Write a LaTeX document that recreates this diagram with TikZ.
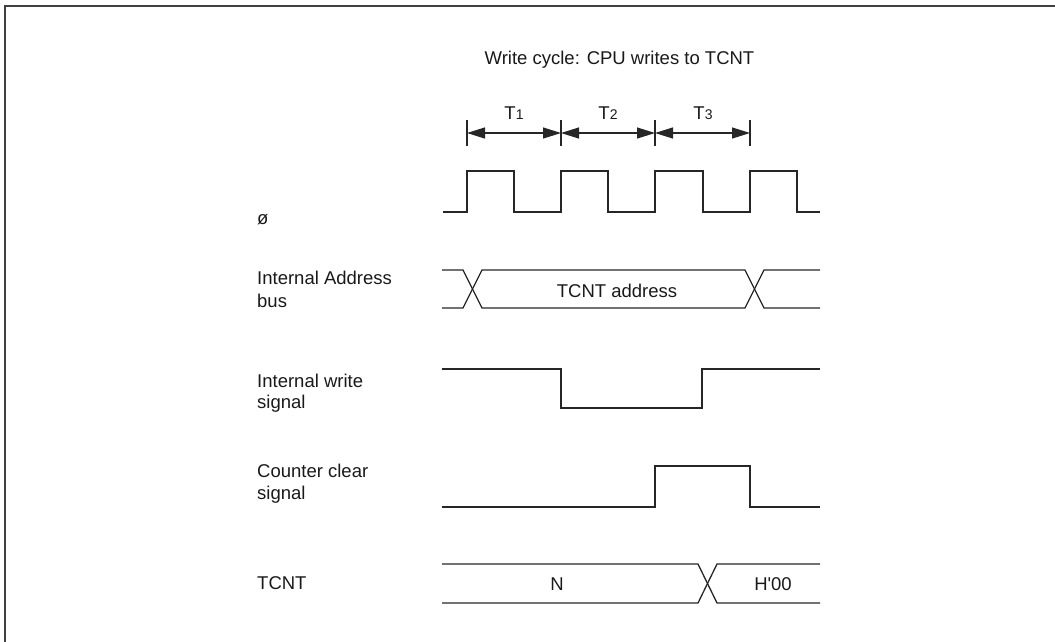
\documentclass[tikz,border=0pt]{standalone}
\usepackage{fontspec}
\setmainfont{Liberation Sans}[Ligatures=TeXOff]
\usetikzlibrary{arrows.meta}
\tikzset{
  sig/.style={line width=1.3pt, black!85, line join=miter},
  txt/.style={inner sep=0pt, font=\fontsize{18.5}{22}\selectfont, text=black!90},
  lbl/.style={txt, anchor=base west},
  mid/.style={txt, anchor=base},
  tick/.style={line width=1.1pt, black!85},
  dim/.style={line width=1.2pt, black!85, {Triangle[length=18pt,width=11pt]}-{Triangle[length=18pt,width=11pt]}},
  frame/.style={line width=2pt, black!75}
}
\newcommand{\Tlab}[1]{{\fontsize{18.5}{18.5}\selectfont T}{\fontsize{14}{14}\selectfont #1}}
\newcommand{\twolines}[3]{\parbox[t]{6cm}{\fontsize{18.5}{#3}\selectfont #1\\#2}}
\begin{document}
\begin{tikzpicture}[x=1pt,y=-1pt]
\useasboundingbox (0,0) rectangle (1055,641);
\draw[frame] (5,645) -- (5,6) -- (1060,6);

% title
\node[mid] (title) at (619.5,64) {Write cycle: CPU writes to TCNT};

% period markers
\foreach \x/\n in {467/a,561/b,655/c,750/d}{
  \coordinate (\n) at (\x,133);
  \draw[tick] (\x,120) -- (\x,146);
}
\draw[dim] (a) -- (b);
\draw[dim] (b) -- (c);
\draw[dim] (c) -- (d);
\node[txt, anchor=base] (t1) at (514,119) {\Tlab{1}};
\node[txt, anchor=base] (t2) at (608,119) {\Tlab{2}};
\node[txt, anchor=base] (t3) at (703,119) {\Tlab{3}};

% left labels
\node[lbl] (l1) at (257,224) {ø};
\node[lbl] (l2) at (257,284) {\twolines{Internal Address}{bus}{23pt}};
\node[lbl] (l3) at (257,387) {\twolines{Internal write}{signal}{21pt}};
\node[lbl] (l4) at (257,477) {\twolines{Counter clear}{signal}{22pt}};
\node[lbl] (l5) at (257,589) {TCNT};

% clock
\draw[sig] (443,212) -- (467,212) -- (467,171) -- (514,171) -- (514,212) -- (561,212)
  -- (561,171) -- (608,171) -- (608,212) -- (655,212) -- (655,171) -- (703,171)
  -- (703,212) -- (750,212) -- (750,171) -- (797,171) -- (797,212) -- (820,212);

% address bus
\draw[sig] (442,270) -- (463,270) -- (482,308) -- (745,308) -- (764,270) -- (820,270);
\draw[sig] (442,308) -- (463,308) -- (482,270) -- (745,270) -- (764,308) -- (820,308);
\node[mid] (addr) at (617,297) {TCNT address};

% write signal
\draw[sig] (442,369) -- (561,369) -- (561,408) -- (702,408) -- (702,369) -- (820,369);

% counter clear
\draw[sig] (442,507) -- (655,507) -- (655,466) -- (750,466) -- (750,507) -- (820,507);

% TCNT
\draw[sig] (442,564) -- (698,564) -- (717,603) -- (820,603);
\draw[sig] (442,603) -- (698,603) -- (717,564) -- (820,564);
\node[mid] (nval) at (557,590) {N};
\node[mid] (hval) at (773,590) {H'00};
\end{tikzpicture}
\end{document}
